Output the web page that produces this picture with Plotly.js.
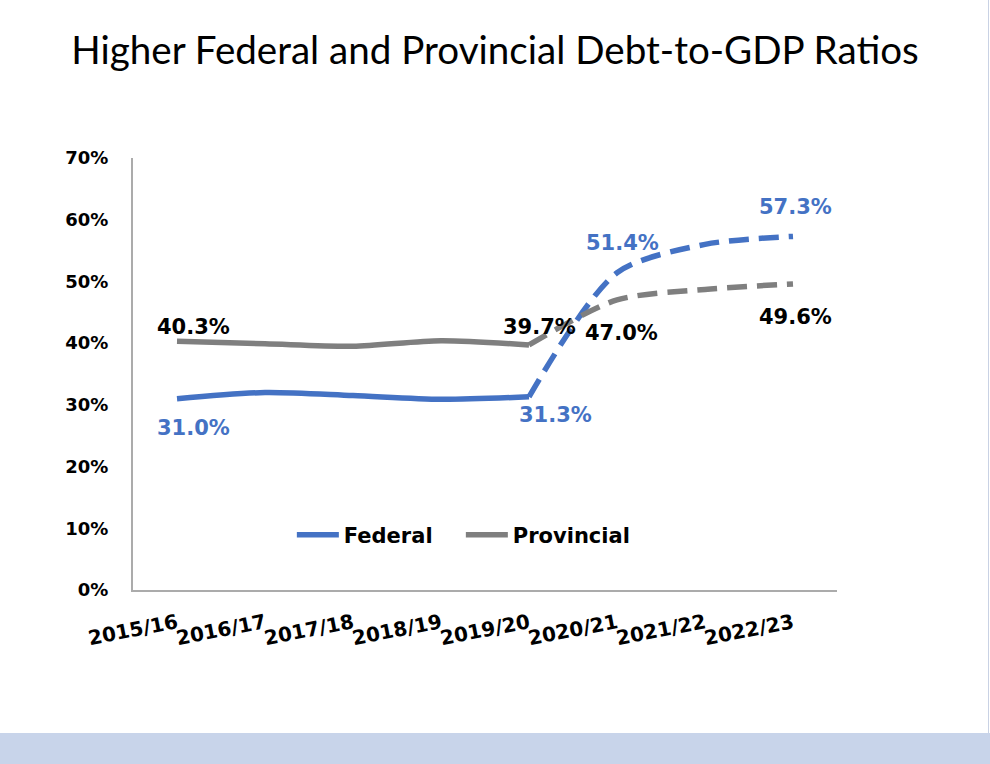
<!DOCTYPE html>
<html>
<head>
<meta charset="utf-8">
<script src="https://cdn.plot.ly/plotly-3.0.1.min.js"></script>
<style>
  html, body { margin: 0; padding: 0; background: #ffffff; }
  #chart { width: 990px; height: 764px; position: absolute; left: 0; top: 0; }
  #band { position: absolute; left: 0; top: 733px; width: 990px; height: 31px; background: #C8D4EA; }
  #edge { position: absolute; left: 988px; top: 0; width: 1px; height: 733px; background: #C9D2E4; }
</style>
</head>
<body>
<div id="chart"></div>
<div id="band"></div>
<div id="edge"></div>
<script>
// ---- data ----
const categories = ["2015/16", "2016/17", "2017/18", "2018/19", "2019/20", "2020/21", "2021/22", "2022/23"];
const federal    = [31.0, 32.0, 31.5, 30.9, 31.3, 51.4, 56.0, 57.3];
const provincial = [40.3, 39.9, 39.5, 40.4, 39.7, 47.0, 48.7, 49.6];
const yTickVals  = [0, 10, 20, 30, 40, 50, 60, 70];
const yTickText  = ["0%", "10%", "20%", "30%", "40%", "50%", "60%", "70%"];
const lastActualIndex = 4;              // 2019/20: solid up to here, dashed after
const labelledIndices = [0, 4, 5, 7];   // points carrying a data label
const seriesNames = ["Federal", "Provincial"];
const titleText = "Higher Federal and Provincial Debt-to-GDP Ratios";

// ---- style ----
const BLUE = "#4472C4", GRAY = "#7F7F7F";
const LW = 5.5;
const DASH = "20px,10px";
const chartFont = "DejaVu Sans";
const fedLabelShift  = { 0: [16, -29], 4: [26, -18], 5: [5, 30],  7: [2, 29] };
const provLabelShift = { 0: [16, 14],  4: [10, 18],  5: [4, -33], 7: [2, -33] };

function seg(arr, from, to) { return arr.slice(from, to + 1); }

const traces = [
  { x: seg(categories, 0, lastActualIndex), y: seg(federal, 0, lastActualIndex), name: seriesNames[0],
    type: "scatter", mode: "lines", line: { color: BLUE, width: LW, shape: "spline", smoothing: 0.8 }, legendgroup: "f" },
  { x: seg(categories, 0, lastActualIndex), y: seg(provincial, 0, lastActualIndex), name: seriesNames[1],
    type: "scatter", mode: "lines", line: { color: GRAY, width: LW, shape: "spline", smoothing: 0.8 }, legendgroup: "p" },
  { x: seg(categories, lastActualIndex, categories.length - 1), y: seg(federal, lastActualIndex, categories.length - 1),
    name: seriesNames[0] + " (projected)", showlegend: false,
    type: "scatter", mode: "lines", line: { color: BLUE, width: LW, dash: DASH, shape: "spline", smoothing: 0.8 } },
  { x: seg(categories, lastActualIndex, categories.length - 1), y: seg(provincial, lastActualIndex, categories.length - 1),
    name: seriesNames[1] + " (projected)", showlegend: false,
    type: "scatter", mode: "lines", line: { color: GRAY, width: LW, dash: DASH, shape: "spline", smoothing: 0.8 } }
];

const annotations = [];
labelledIndices.forEach(i => {
  annotations.push({
    x: categories[i], y: federal[i], xref: "x", yref: "y", showarrow: false,
    text: federal[i].toFixed(1) + "%", xshift: fedLabelShift[i][0], yshift: fedLabelShift[i][1],
    font: { family: chartFont, size: 21, color: BLUE, weight: "bold" }
  });
  annotations.push({
    x: categories[i], y: provincial[i], xref: "x", yref: "y", showarrow: false,
    text: provincial[i].toFixed(1) + "%", xshift: provLabelShift[i][0], yshift: provLabelShift[i][1],
    font: { family: chartFont, size: 21, color: "#000000", weight: "bold" }
  });
});

const layout = {
  width: 990, height: 764,
  margin: { l: 133, r: 153, t: 158, b: 174 },
  paper_bgcolor: "rgba(0,0,0,0)", plot_bgcolor: "rgba(0,0,0,0)",
  title: {
    text: titleText, x: 0.5, xanchor: "center", xref: "container",
    y: 1 - 50 / 764, yref: "container", yanchor: "middle",
    font: { family: "Lato", size: 38.6, color: "#000000" }
  },
  xaxis: {
    type: "category", categoryorder: "array", categoryarray: categories,
    range: [-0.5, categories.length - 0.5],
    showgrid: false, zeroline: false, showline: true, linecolor: "#ABABAB", linewidth: 2,
    ticks: "", tickangle: -11, ticklabelstandoff: 12,
    tickfont: { family: chartFont, size: 20, color: "#000000", weight: "bold" }
  },
  yaxis: {
    range: [0, 70], tickvals: yTickVals, ticktext: yTickText,
    showgrid: false, zeroline: false, showline: true, linecolor: "#ABABAB", linewidth: 2,
    ticks: "", ticklabelstandoff: 19,
    tickfont: { family: chartFont, size: 18, color: "#000000", weight: "bold" }
  },
  legend: {
    orientation: "h", x: 0.4657, xanchor: "center", y: 0.127, yanchor: "middle",
    bgcolor: "rgba(0,0,0,0)", itemwidth: 42, entrywidth: 112, tracegroupgap: 0,
    font: { family: chartFont, size: 21, color: "#000000", weight: "bold" }
  },
  annotations: annotations,
  showlegend: true
};

Plotly.newPlot("chart", traces, layout, { displayModeBar: false, staticPlot: true });
</script>
</body>
</html>
